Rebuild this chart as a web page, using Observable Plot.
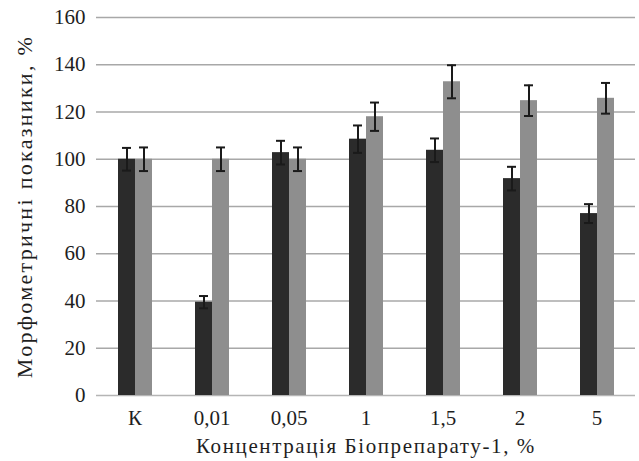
<!DOCTYPE html>
<html><head><meta charset="utf-8">
<script src="https://cdn.jsdelivr.net/npm/d3@7"></script>
<script src="https://cdn.jsdelivr.net/npm/@observablehq/plot@0.6"></script>
<style>
body{margin:0;background:#fff}
#chart svg, #chart svg text {font-family: "Liberation Serif", "DejaVu Serif", serif !important;}
#chart svg text {font-size: 21px !important; fill: #1e1e1e;}
#chart svg g[aria-label="y-axis label"] text {font-size: 22px !important; letter-spacing: 2.3px;}
#chart svg g[aria-label="fx-axis label"] text {font-size: 21px !important; letter-spacing: 1.6px;}
</style>
</head><body><div id="chart"></div>
<script>
const categories = ["К", "0,01", "0,05", "1", "1,5", "2", "5"];
const seriesNames = ["dark", "light"];
const darkValues = [100, 39.5, 102.8, 108.5, 103.8, 91.8, 77];
const darkErrors = [4.8, 2.6, 5, 5.8, 5, 5, 4];
const lightValues = [100, 100, 100, 118, 132.8, 124.8, 125.8];
const lightErrors = [5, 5, 5, 6, 7, 6.5, 6.5];
const yTicks = [0, 20, 40, 60, 80, 100, 120, 140, 160];
const xTitle = "Концентрація Біопрепарату-1, %";
const yTitle = "Морфометричні показники, %";

const rows = categories.flatMap((c, i) => [
  {cat: c, s: "dark", v: darkValues[i], lo: darkValues[i] - darkErrors[i], hi: darkValues[i] + darkErrors[i]},
  {cat: c, s: "light", v: lightValues[i], lo: lightValues[i] - lightErrors[i], hi: lightValues[i] + lightErrors[i]}
]);

const chart = Plot.plot({
  width: 639, height: 461,
  marginLeft: 96, marginRight: 4, marginTop: 17, marginBottom: 66,
  style: {fontSize: "21px", color: "#222", background: "#fff"},
  fx: {domain: categories, padding: 0, label: xTitle, labelAnchor: "center", tickSize: 0, tickPadding: 15, labelOffset: 57, labelArrow: false},
  x: {domain: seriesNames, paddingInner: 0, paddingOuter: 1.14, axis: null},
  y: {domain: [0, 160], ticks: yTicks, tickSize: 0, tickPadding: 11, label: yTitle, labelAnchor: "center", labelOffset: 80, labelArrow: false},
  color: {domain: seriesNames, range: ["#2b2b2b", "#8e8e8e"]},
  marks: [
    Plot.ruleY(yTicks.slice(1), {stroke: "#a8a8a8", strokeWidth: 1.6}),
    Plot.ruleY([0], {stroke: "#b5b5b5", strokeWidth: 1.4}),
    Plot.barY(rows, {fx: "cat", x: "s", y: "v", fill: "s"}),
    Plot.ruleX(rows, {fx: "cat", x: "s", y1: "lo", y2: "hi", stroke: "#1a1a1a", strokeWidth: 2}),
    Plot.tickY(rows, {fx: "cat", x: "s", y: "hi", stroke: "#1a1a1a", strokeWidth: 2, insetLeft: 4, insetRight: 4}),
    Plot.tickY(rows, {fx: "cat", x: "s", y: "lo", stroke: "#1a1a1a", strokeWidth: 2, insetLeft: 4, insetRight: 4})
  ]
});
document.getElementById("chart").appendChild(chart);
</script>
</body></html>
